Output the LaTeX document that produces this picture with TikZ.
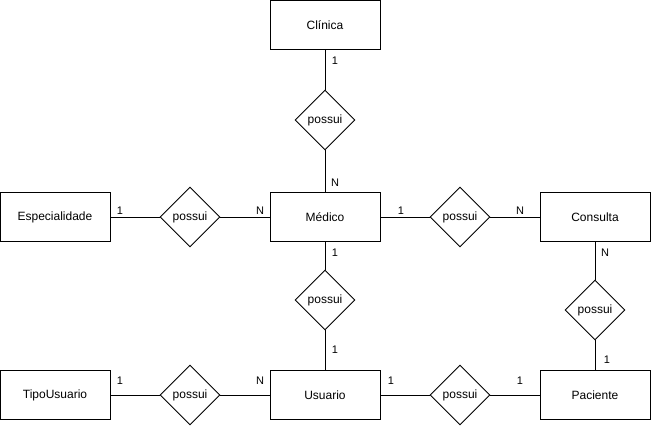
\documentclass[tikz,border=0pt]{standalone}
\usepackage{fontspec}
\setmainfont{Liberation Sans}
\usetikzlibrary{shapes.geometric}
\begin{document}
\begin{tikzpicture}[x=1pt,y=-1pt,
  entity/.style={draw,line width=0.9pt,minimum width=110pt,minimum height=49pt,inner sep=0pt,font=\fontsize{12}{14}\selectfont},
  rel/.style={draw,diamond,line width=0.9pt,minimum width=60pt,minimum height=60pt,inner sep=0pt,font=\fontsize{12}{14}\selectfont},
  card/.style={inner sep=0pt,font=\fontsize{11}{13}\selectfont},
  conn/.style={line width=0.9pt}]
\useasboundingbox (0,0) rectangle (651,426);
\node[entity] (clinica) at (325,25) {Clínica};
\node[entity] (esp) at (55,217) {Especialidade};
\node[entity] (medico) at (325,217) {Médico};
\node[entity] (consulta) at (595,217) {Consulta};
\node[entity] (tipo) at (55,395) {TipoUsuario};
\node[entity] (usuario) at (325,395) {Usuario};
\node[entity] (paciente) at (595,395) {Paciente};
\node[rel] (r1) at (325,120) {possui};
\node[rel] (r2) at (190,217) {possui};
\node[rel] (r3) at (460,217) {possui};
\node[rel] (r4) at (325,300) {possui};
\node[rel] (r5) at (595,310) {possui};
\node[rel] (r6) at (190,395) {possui};
\node[rel] (r7) at (460,395) {possui};
\draw[conn] (clinica) -- (r1) -- (medico);
\draw[conn] (esp) -- (r2) -- (medico);
\draw[conn] (medico) -- (r3) -- (consulta);
\draw[conn] (medico) -- (r4) -- (usuario);
\draw[conn] (consulta) -- (r5) -- (paciente);
\draw[conn] (tipo) -- (r6) -- (usuario);
\draw[conn] (usuario) -- (r7) -- (paciente);
\node[card] (c1) at (335,61) {1};
\node[card] (c2) at (335,183) {N};
\node[card] (c3) at (120,211) {1};
\node[card] (c4) at (260,211) {N};
\node[card] (c5) at (401,211) {1};
\node[card] (c6) at (520,211) {N};
\node[card] (c7) at (335,253) {1};
\node[card] (c8) at (335,350) {1};
\node[card] (c9) at (605,253) {N};
\node[card] (c10) at (607,360) {1};
\node[card] (c11) at (120,381) {1};
\node[card] (c12) at (260,381) {N};
\node[card] (c13) at (391,381) {1};
\node[card] (c14) at (520,381) {1};
\end{tikzpicture}
\end{document}
